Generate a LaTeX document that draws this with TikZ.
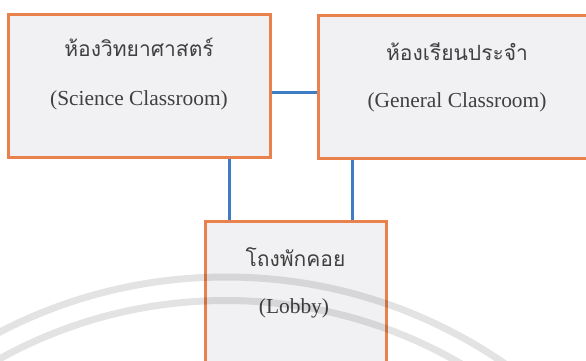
\documentclass[tikz,border=0pt]{standalone}
\usepackage{fontspec}
\setmainfont{Liberation Serif}
\newfontfamily\thaifont[Script=Thai]{Loma}
\definecolor{roomedge}{HTML}{E8814C}
\definecolor{roomfill}{HTML}{F1F1F3}
\definecolor{linkblue}{HTML}{3E7DC4}
\begin{document}
\begin{tikzpicture}[x=1pt, y=-1pt,
  room/.style={draw=roomedge, fill=roomfill, line width=3pt, rectangle, inner sep=0pt},
  thai/.style={font=\thaifont\fontsize{21}{24}\selectfont, text=black!75},
  eng/.style={font=\fontsize{21.4}{24}\selectfont, text=black!75},
  link/.style={draw=linkblue, line width=3pt}]
\useasboundingbox (0,0) rectangle (586,360);
\clip (0,0) rectangle (586,360);

\node[room, minimum width=262pt, minimum height=143pt] (sci) at (139,85.5){};
\node[room, minimum width=282pt, minimum height=143pt] (gen) at (459,86.5){};
\node[room, minimum width=181pt, minimum height=159pt] (lobby) at (295.5,300.5){};

\node[thai] (scith) at (139,47){ห้องวิทยาศาสตร์};
\node[eng] (scien) at (139,100){(Science Classroom)};
\node[thai] (genth) at (457,52){ห้องเรียนประจำ};
\node[eng] (genen) at (457,102){(General Classroom)};
\node[thai] (lobbyth) at (295.5,257){โถงพักคอย};
\node[eng] (lobbyen) at (294,308){(Lobby)};

\coordinate (hy) at (0,92);
\coordinate (v1) at (229,0);
\coordinate (v2) at (352,0);
\draw[link](sci.east |- hy) -- (gen.west |- hy);
\draw[link](sci.south -| v1) -- (lobby.north -| v1);
\draw[link](gen.south -| v2) -- (lobby.north -| v2);

% watermark
\draw[black, opacity=0.11, line width=7pt] (226,768.5) circle[radius=491.5];
\draw[black, opacity=0.11, line width=7pt] (226,768.5) circle[radius=468];

\end{tikzpicture}
\end{document}
